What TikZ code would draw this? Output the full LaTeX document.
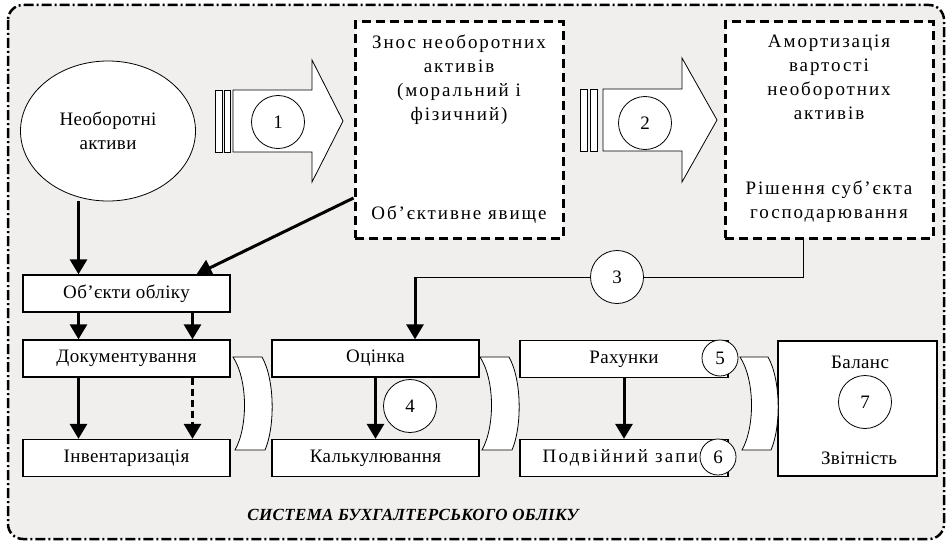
\documentclass[tikz,border=0pt]{standalone}
\usepackage{fontspec}
\setmainfont{Liberation Serif}[LetterSpace=2]
\usetikzlibrary{arrows.meta, positioning, shapes.geometric}
\definecolor{bgray}{RGB}{240,239,237}
\tikzset{>={Triangle[width=17pt,length=15pt]}}
\tikzset{
  frame/.style={line width=2.5pt, dash pattern=on 10pt off 3pt on 2pt off 3pt, rounded corners=15pt, fill=bgray},
  dbox/.style={draw, fill=white, line width=3pt, dash pattern=on 9pt off 5pt, minimum width=208pt, minimum height=216pt},
  dtext/.style={align=center, font=\fontsize{19}{24}\selectfont\addfontfeatures{LetterSpace=10}},
  box/.style={draw, fill=white, line width=1.3pt, minimum width=207pt, minimum height=37pt, inner sep=0pt},
  num/.style={draw, circle, fill=white, line width=0.8pt, minimum size=53pt, inner sep=0pt},
  smallnum/.style={num, minimum size=36pt},
  blk/.style={draw, fill=white, line width=0.8pt},
  big/.style={->, line width=3pt},
}
\begin{document}
\begin{tikzpicture}[x=1pt,y=-1pt,font=\fontsize{19}{24}\selectfont]
\useasboundingbox (0,0) rectangle (948,543);
\draw[frame] (8,5) rectangle (944,539);

% top row
\node[draw, ellipse, fill=white, line width=0.8pt, minimum width=175pt, minimum height=140pt, align=center] (neob) at (108,131) {Необоротні\\активи};
\node[dbox] (znos) at (459,130) {};
\node[dtext, anchor=north] (znostop) at ([yshift=-11pt]znos.north) {Знос необоротних\\активів\\(моральний і\\фізичний)};
\node[dtext, anchor=south] (znosbot) at ([yshift=13pt]znos.south) {Об'єктивне явище};
\node[dbox] (amort) at (829,130) {};
\node[dtext, anchor=north] (amorttop) at ([yshift=-11pt]amort.north) {Амортизація\\вартості\\необоротних\\активів};
\node[dtext, anchor=south] (amortbot) at ([yshift=13pt]amort.south) {Рішення суб'єкта\\господарювання};

% block arrows
\draw[blk] (215,90) rectangle (222,152);
\draw[blk] (224,90) rectangle (230,152);
\draw[blk] (233,90) -- (312,90) -- (312,60) -- (343,121) -- (312,182) -- (312,152) -- (233,152) -- cycle;
\node[num] (n1) at (278,122) {1};
\draw[blk] (580,89) rectangle (587,151);
\draw[blk] (590,89) rectangle (597,151);
\draw[blk] (603,89) -- (682,89) -- (682,58) -- (717,120) -- (682,182) -- (682,151) -- (603,151) -- cycle;
\node[num] (n2) at (645,123) {2};

% lower boxes
\node[box] (obj) at (126.5,293.5) {Об'єкти обліку};
\node[box] (doc) at (126.5,358.5) {Документування};
\node[box] (inv) at (126.5,458) {Інвентаризація};
\node[box] (ots) at (375.5,358.5) {Оцінка};
\node[box] (kal) at (375.5,458) {Калькулювання};
\node[box, minimum width=208pt] (rah) at (624,359) {Рахунки};
\node[box, minimum width=208pt] (pod) at (624,458) {};
\node[anchor=west, inner sep=0pt, font=\fontsize{19}{24}\selectfont\addfontfeatures{LetterSpace=12}] (podt) at ([xshift=23pt]pod.west) {Подвійний запис};
\node[box, minimum width=159pt, minimum height=135pt] (bal) at (857.5,408.5) {};
\node (baltop) at (860,362) {Баланс};
\node (balbot) at (859,458) {Звітність};

% chevrons
\draw[blk] (233,357) -- (262,357) .. controls (275,380) and (275,427) .. (265,450) -- (235,450) .. controls (248,427) and (248,380) .. (233,357) -- cycle;
\draw[blk] (480,357) -- (509,357) .. controls (522,380) and (522,427) .. (512,450) -- (482,450) .. controls (495,427) and (495,380) .. (480,357) -- cycle;
\draw[blk] (740,357) -- (768,357) .. controls (781,380) and (781,427) .. (771,450) -- (742,450) .. controls (755,427) and (755,380) .. (740,357) -- cycle;

% connectors
\coordinate (o1) at ([xshift=-48pt]obj.north);
\coordinate (o2) at ([xshift=66pt]obj.north);
\draw[big] (neob.south -| o1) -- (o1);
\draw[big] ([yshift=-68pt]znos.west) -- ([xshift=70pt]obj.north);
\draw[big] ([xshift=-48pt]obj.south) -- ([xshift=-48pt]doc.north);
\draw[big] ([xshift=66pt]obj.south) -- ([xshift=66pt]doc.north);
\draw[big] ([xshift=-48pt]doc.south) -- ([xshift=-48pt]inv.north);
\draw[big, dash pattern=on 7pt off 4pt] ([xshift=66pt]doc.south) -- ([xshift=66pt]inv.north);
\draw[big] (ots) -- (kal);
\draw[big] (rah) -- (pod);
\coordinate (turn) at (803,277);
\coordinate (drop) at (415,277);
\draw[line width=0.8pt] (amort.south -| turn) -- (turn) -- (drop);
\draw[big] (drop) -- (drop |- ots.north);

% numbers
\node[num] (n3) at (617,277) {3};
\node[num] (n4) at (410,406) {4};
\node[smallnum] (n5) at (720,358) {5};
\node[smallnum] (n6) at (718,457) {6};
\node[num] (n7) at (865,402) {7};

\node[font=\fontsize{17}{24}\selectfont\bfseries\itshape] (title) at (413,515) {СИСТЕМА БУХГАЛТЕРСЬКОГО ОБЛІКУ};
\end{tikzpicture}
\end{document}
